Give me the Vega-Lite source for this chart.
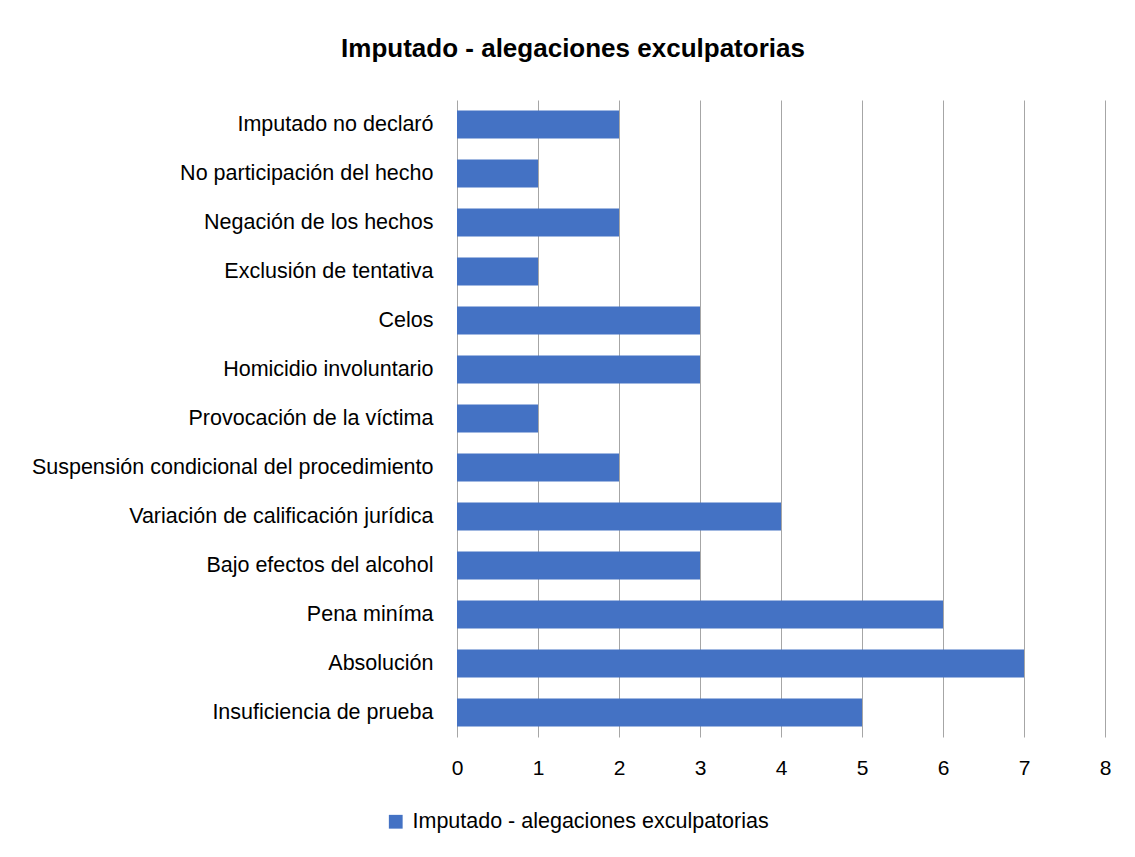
{
  "$schema": "https://vega.github.io/schema/vega-lite/v6.json",
  "width": 648,
  "height": 637,
  "autosize": {"type": "none"},
  "padding": {"left": 457, "top": 100, "right": 30, "bottom": 120},
  "background": "white",
  "title": {
    "text": "Imputado - alegaciones exculpatorias",
    "font": "Liberation Sans",
    "fontSize": 26,
    "fontWeight": "bold",
    "color": "#000000",
    "anchor": "middle",
    "dx": -208,
    "offset": 38
  },
  "data": {
    "values": [
      {"categoria": "Imputado no declaró", "valor": 2, "serie": "Imputado - alegaciones exculpatorias"},
      {"categoria": "No participación del hecho", "valor": 1, "serie": "Imputado - alegaciones exculpatorias"},
      {"categoria": "Negación de los hechos", "valor": 2, "serie": "Imputado - alegaciones exculpatorias"},
      {"categoria": "Exclusión de tentativa", "valor": 1, "serie": "Imputado - alegaciones exculpatorias"},
      {"categoria": "Celos", "valor": 3, "serie": "Imputado - alegaciones exculpatorias"},
      {"categoria": "Homicidio involuntario", "valor": 3, "serie": "Imputado - alegaciones exculpatorias"},
      {"categoria": "Provocación de la víctima", "valor": 1, "serie": "Imputado - alegaciones exculpatorias"},
      {"categoria": "Suspensión condicional del procedimiento", "valor": 2, "serie": "Imputado - alegaciones exculpatorias"},
      {"categoria": "Variación de calificación jurídica", "valor": 4, "serie": "Imputado - alegaciones exculpatorias"},
      {"categoria": "Bajo efectos del alcohol", "valor": 3, "serie": "Imputado - alegaciones exculpatorias"},
      {"categoria": "Pena miníma", "valor": 6, "serie": "Imputado - alegaciones exculpatorias"},
      {"categoria": "Absolución", "valor": 7, "serie": "Imputado - alegaciones exculpatorias"},
      {"categoria": "Insuficiencia de prueba", "valor": 5, "serie": "Imputado - alegaciones exculpatorias"}
    ]
  },
  "mark": {"type": "bar"},
  "encoding": {
    "y": {
      "field": "categoria",
      "type": "nominal",
      "sort": null,
      "scale": {"paddingInner": 0.43, "paddingOuter": 0.215},
      "axis": {
        "title": null,
        "domain": false,
        "ticks": false,
        "labelPadding": 24,
        "labelFont": "Liberation Sans",
        "labelFontSize": 21.5,
        "labelColor": "#000000",
        "labelLimit": 600
      }
    },
    "x": {
      "field": "valor",
      "type": "quantitative",
      "scale": {"domain": [0, 8], "nice": false},
      "axis": {
        "title": null,
        "domain": false,
        "ticks": false,
        "values": [0, 1, 2, 3, 4, 5, 6, 7, 8],
        "labelOverlap": false,
        "labelFlush": false,
        "grid": true,
        "gridColor": "#a6a6a6",
        "gridWidth": 1,
        "gridOpacity": 1,
        "labelPadding": 20,
        "labelFont": "Liberation Sans",
        "labelFontSize": 21,
        "labelColor": "#000000"
      }
    },
    "color": {
      "field": "serie",
      "type": "nominal",
      "scale": {"range": ["#4472C4"]},
      "legend": {
        "title": null,
        "orient": "none",
        "legendX": -72,
        "legendY": 711,
        "symbolType": "square",
        "symbolSize": 190,
        "symbolStrokeWidth": 0,
        "symbolOpacity": 1,
        "labelFont": "Liberation Sans",
        "labelFontSize": 21.5,
        "labelColor": "#000000",
        "labelLimit": 600,
        "labelOffset": 6
      }
    }
  },
  "config": {
    "view": {"stroke": null}
  }
}
